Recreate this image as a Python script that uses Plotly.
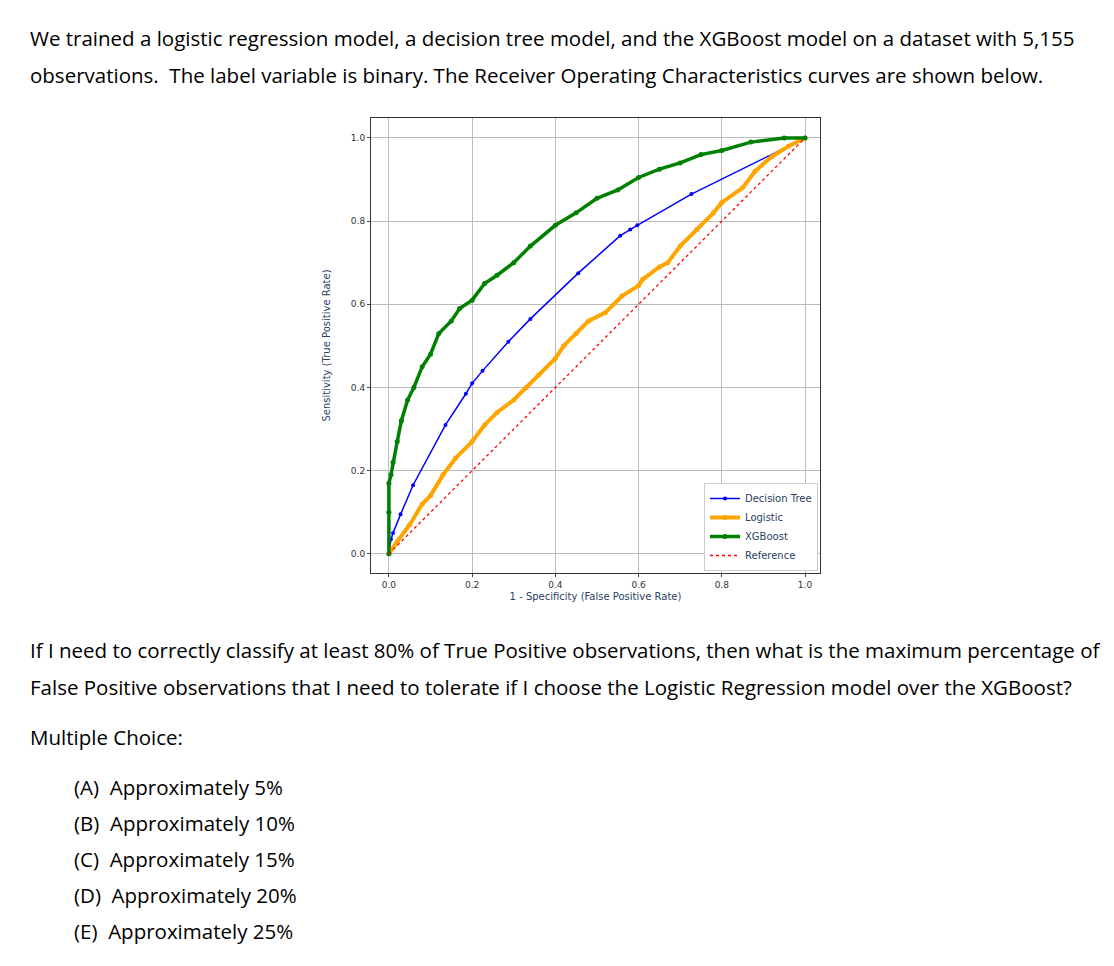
import plotly.graph_objects as go

# ROC points
tree_fpr = [0, 0.005, 0.01, 0.028, 0.058, 0.136, 0.185, 0.2, 0.225, 0.287, 0.34, 0.455, 0.556, 0.58, 0.597, 0.727, 1.0]
tree_tpr = [0, 0.035, 0.05, 0.095, 0.165, 0.31, 0.385, 0.41, 0.44, 0.51, 0.565, 0.675, 0.765, 0.78, 0.79, 0.865, 1.0]

log_fpr = [0, 0.02, 0.05, 0.08, 0.1, 0.13, 0.16, 0.2, 0.23, 0.26, 0.3, 0.33, 0.36, 0.4, 0.42, 0.45, 0.48,
           0.52, 0.56, 0.6, 0.61, 0.65, 0.67, 0.7, 0.74, 0.78, 0.8, 0.85, 0.88, 0.92, 0.96, 1.0]
log_tpr = [0, 0.03, 0.07, 0.12, 0.14, 0.19, 0.23, 0.27, 0.31, 0.34, 0.37, 0.4, 0.43, 0.47, 0.5, 0.53, 0.56,
           0.58, 0.62, 0.645, 0.66, 0.69, 0.70, 0.74, 0.78, 0.82, 0.845, 0.88, 0.92, 0.955, 0.98, 1.0]

xgb_fpr = [0, 0, 0, 0.005, 0.01, 0.02, 0.03, 0.045, 0.06, 0.08, 0.1, 0.12, 0.15, 0.17, 0.2, 0.23, 0.26,
           0.3, 0.34, 0.4, 0.45, 0.5, 0.55, 0.6, 0.65, 0.7, 0.75, 0.8, 0.87, 0.95, 1.0]
xgb_tpr = [0, 0.1, 0.17, 0.19, 0.22, 0.27, 0.32, 0.37, 0.4, 0.45, 0.48, 0.53, 0.56, 0.59, 0.61, 0.65, 0.67,
           0.7, 0.74, 0.79, 0.82, 0.855, 0.875, 0.905, 0.925, 0.94, 0.96, 0.97, 0.99, 1.0, 1.0]

ref_line = [0, 1]

intro = ["We trained a logistic regression model, a decision tree model, and the XGBoost model on a dataset with 5,155",
         "observations.  The label variable is binary. The Receiver Operating Characteristics curves are shown below."]
question = ["If I need to correctly classify at least 80% of True Positive observations, then what is the maximum percentage of",
            "False Positive observations that I need to tolerate if I choose the Logistic Regression model over the XGBoost?"]
choices = ["(A)  Approximately 5%", "(B)  Approximately 10%", "(C)  Approximately 15%",
           "(D)  Approximately 20%", "(E)  Approximately 25%"]

W, H = 1114, 966
fig = go.Figure()
fig.add_trace(go.Scatter(x=tree_fpr, y=tree_tpr, name="Decision Tree", mode="lines+markers",
                         line=dict(color="blue", width=1.5), marker=dict(size=4)))
fig.add_trace(go.Scatter(x=log_fpr, y=log_tpr, name="Logistic", mode="lines+markers",
                         line=dict(color="orange", width=4), marker=dict(size=5)))
fig.add_trace(go.Scatter(x=xgb_fpr, y=xgb_tpr, name="XGBoost", mode="lines+markers",
                         line=dict(color="green", width=3.5), marker=dict(size=5)))
fig.add_trace(go.Scatter(x=ref_line, y=ref_line, name="Reference", mode="lines",
                         line=dict(color="red", width=1.3, dash="dot")))

ax = dict(showline=True, mirror=True, linecolor="#333", linewidth=1, showgrid=True, gridcolor="#bbb",
          zeroline=False, ticks="outside", ticklen=3, dtick=0.2, tickformat=".1f", automargin=False,
          tickfont=dict(size=9, color="#333"))
fig.update_layout(
    width=W, height=H, margin=dict(l=0, r=0, t=0, b=0),
    plot_bgcolor="white", paper_bgcolor="white",
    font=dict(family="DejaVu Sans"),
    xaxis=dict(ax, range=[-0.043, 1.036], domain=[363 / W, 812 / W],
               title=dict(text="1 - Specificity (False Positive Rate)", font=dict(size=10), standoff=4)),
    yaxis=dict(ax, range=[-0.046, 1.048], domain=[1 - 565 / H, 1 - 110 / H],
               title=dict(text="Sensitivity (True Positive Rate)", font=dict(size=10), standoff=18)),
    legend=dict(x=810 / W, y=1 - 563 / H, xref="paper", yref="paper", xanchor="right", yanchor="bottom",
                bordercolor="#ccc", borderwidth=1, bgcolor="white", font=dict(size=10),
                tracegroupgap=0, itemwidth=30),
    showlegend=True,
)

def txt(s, x, y, size=20.5):
    fig.add_annotation(text=s, x=x / W, y=1 - y / H, xref="paper", yref="paper", xanchor="left",
                       yanchor="middle", showarrow=False, font=dict(family="Open Sans", size=size, color="black"))

txt(intro[0], 20, 30)
txt(intro[1], 20, 67)
txt(question[0], 20, 642)
txt(question[1], 20, 679)
txt("Multiple Choice:", 20, 729)
for i, c in enumerate(choices):
    txt(c, 64, 779 + i * 36)

fig.write_html("out.html")
